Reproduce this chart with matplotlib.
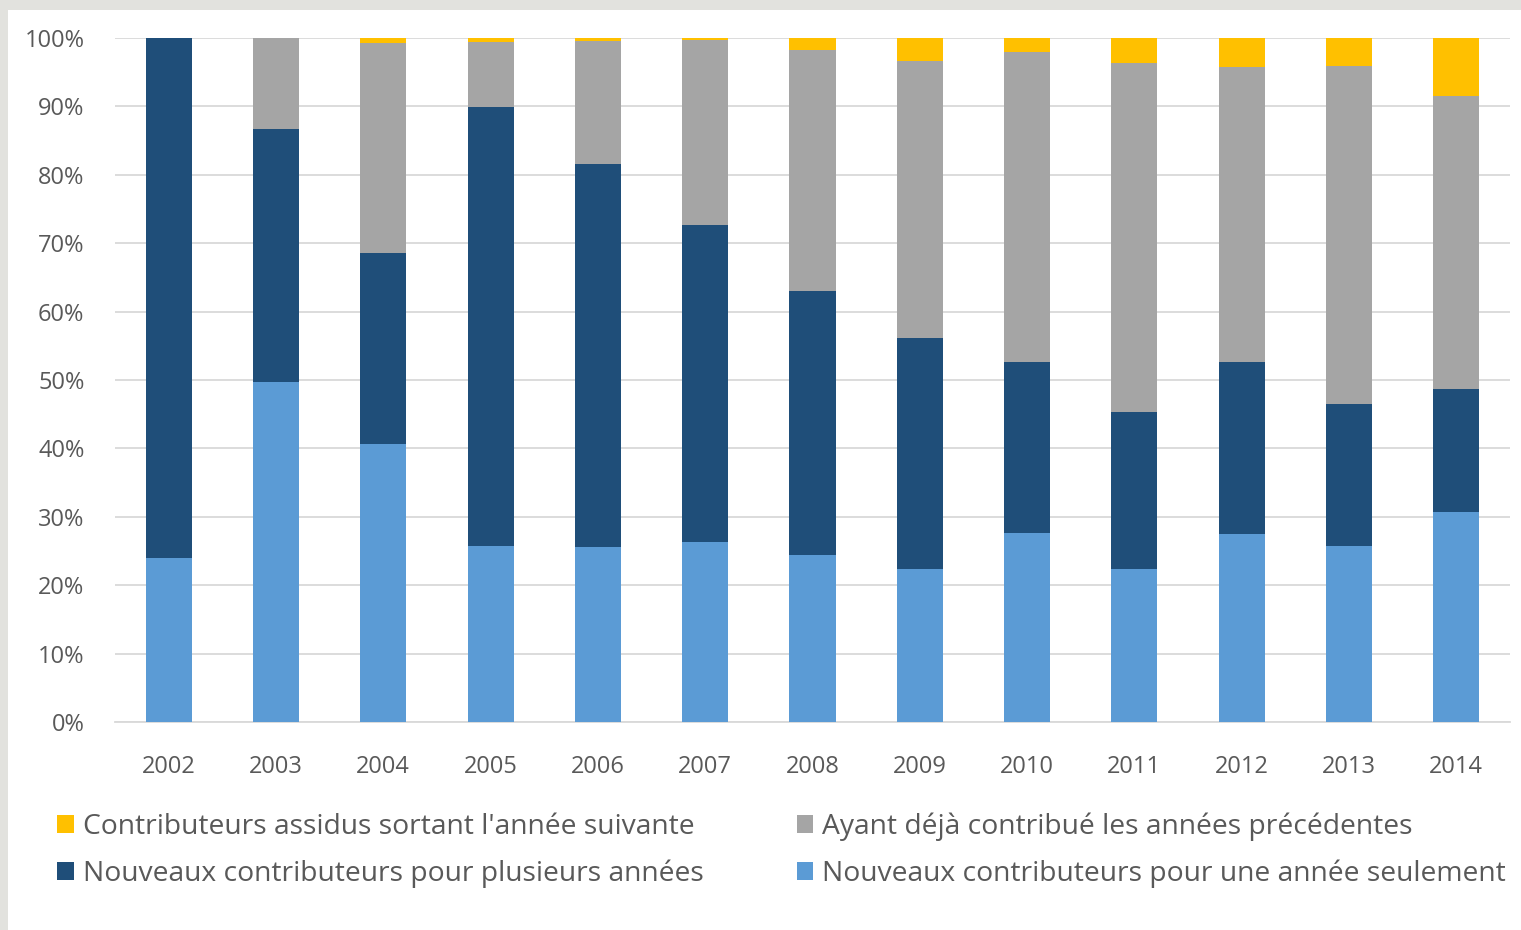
import matplotlib.pyplot as plt
import numpy as np
from matplotlib.patches import Rectangle
from matplotlib.ticker import PercentFormatter

annees = ['2002', '2003', '2004', '2005', '2006', '2007', '2008',
          '2009', '2010', '2011', '2012', '2013', '2014']
# parts en % de chaque categorie, par annee
une_annee = [24.0, 49.7, 40.6, 25.7, 25.6, 26.3, 24.4, 22.4, 27.6, 22.4, 27.5, 25.7, 30.7]
plusieurs = [76.0, 37.0, 28.0, 64.2, 56.0, 46.4, 38.6, 33.7, 25.0, 22.9, 25.1, 20.8, 18.0]
deja = [0.0, 13.3, 30.7, 9.5, 18.0, 27.0, 35.2, 40.5, 45.4, 51.0, 43.2, 49.4, 42.8]
assidus = [0.0, 0.0, 0.7, 0.6, 0.4, 0.3, 1.8, 3.4, 2.0, 3.7, 4.2, 4.1, 8.5]

plt.rcParams['font.family'] = ['Open Sans', 'DejaVu Sans']

fig = plt.figure(figsize=(15.21, 9.30), dpi=100)
fig.patch.set_facecolor('white')
# bordure grise en haut et a gauche
fig.patches.append(Rectangle((0, 1 - 10 / 930), 1, 10 / 930, transform=fig.transFigure,
                             facecolor='#e2e2de', edgecolor='none'))
fig.patches.append(Rectangle((0, 0), 8 / 1521, 1, transform=fig.transFigure,
                             facecolor='#e2e2de', edgecolor='none'))

ax = fig.add_axes([115 / 1521, 1 - 722 / 930, (1510 - 115) / 1521, (722 - 38) / 930])
ax.set_facecolor('none')

x = np.arange(len(annees))
w = 0.43
b1 = np.array(une_annee)
b2 = b1 + np.array(plusieurs)
b3 = b2 + np.array(deja)

h1 = ax.bar(x, une_annee, w, color='#5b9bd5', zorder=3,
            label='Nouveaux contributeurs pour une année seulement')
h2 = ax.bar(x, plusieurs, w, bottom=b1, color='#1f4e79', zorder=3,
            label='Nouveaux contributeurs pour plusieurs années')
h3 = ax.bar(x, deja, w, bottom=b2, color='#a5a5a5', zorder=3,
            label='Ayant déjà contribué les années précédentes')
h4 = ax.bar(x, assidus, w, bottom=b3, color='#ffc000', zorder=3,
            label="Contributeurs assidus sortant l'année suivante")

ax.set_xlim(-0.5, len(annees) - 0.5)
ax.set_ylim(0, 100)
ax.set_yticks(np.arange(0, 101, 10))
ax.yaxis.set_major_formatter(PercentFormatter(decimals=0))
ax.set_xticks(x)
ax.set_xticklabels(annees)
ax.grid(axis='y', color='#d9d9d9', linewidth=1.3, zorder=0)
for s in ['top', 'right', 'left']:
    ax.spines[s].set_visible(False)
ax.spines['bottom'].set_color('#d9d9d9')
ax.spines['bottom'].set_linewidth(1.3)
ax.tick_params(axis='both', length=0, labelsize=17, labelcolor='#595959')
ax.tick_params(axis='x', pad=24)
ax.tick_params(axis='y', pad=22)

leg = fig.legend([h4, h2, h3, h1], [h.get_label() for h in [h4, h2, h3, h1]],
                 ncol=2, loc='upper left', bbox_to_anchor=(32 / 1521, 1 - 787 / 930),
                 frameon=False, fontsize=20.3, handlelength=0.6, handleheight=0.6,
                 handletextpad=0.3, columnspacing=3.3, labelspacing=0.65, labelcolor='#595959')

fig.savefig('out.png', dpi=100)
